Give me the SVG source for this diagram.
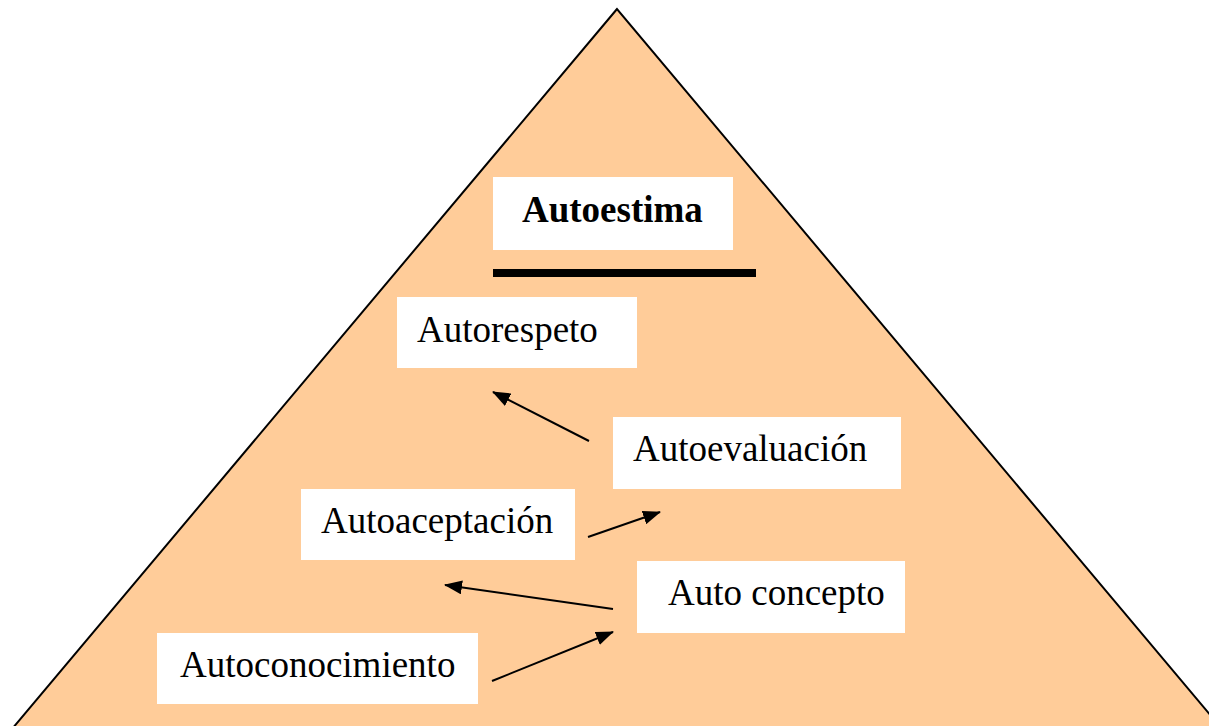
<svg xmlns="http://www.w3.org/2000/svg" width="1209" height="726" viewBox="0 0 1209 726">
<style>
.box{fill:#ffffff;stroke:none}
.t{font-family:"Liberation Serif","Times New Roman",serif;font-size:37px;fill:#000}
.b{font-weight:bold}
.c{stroke:#000;stroke-width:2;fill:none}
</style>
<defs>
<marker id="ah" markerWidth="18" markerHeight="14" refX="17" refY="7" orient="auto" markerUnits="userSpaceOnUse">
<path d="M0,0 L18,7 L0,14 Z" fill="#000"/>
</marker>
</defs>
<rect width="1209" height="726" fill="#ffffff"/>
<g id="pyramid">
<polygon points="617,9 12,729 1222,729" fill="#ffcc99" stroke="#000" stroke-width="2"/>
</g>
<g id="autoestima">
<rect class="box" x="493" y="177" width="240" height="73"/>
<text class="t b" x="522" y="222">Autoestima</text>
<rect x="493" y="269" width="263" height="8" fill="#000"/>
</g>
<g id="autorespeto">
<rect class="box" x="397" y="297" width="240" height="71"/>
<text class="t" x="417" y="342">Autorespeto</text>
</g>
<g id="autoevaluacion">
<rect class="box" x="613" y="417" width="288" height="72"/>
<text class="t" x="633" y="461">Autoevaluación</text>
</g>
<g id="autoaceptacion">
<rect class="box" x="301" y="489" width="274" height="71"/>
<text class="t" x="321" y="533">Autoaceptación</text>
</g>
<g id="autoconcepto">
<rect class="box" x="637" y="561" width="268" height="72"/>
<text class="t" x="668" y="605">Auto concepto</text>
</g>
<g id="autoconocimiento">
<rect class="box" x="157" y="633" width="321" height="71"/>
<text class="t" x="180" y="677">Autoconocimiento</text>
</g>
<g id="connectors">
<line class="c" x1="589" y1="441" x2="493" y2="392" marker-end="url(#ah)"/>
<line class="c" x1="588" y1="537" x2="660" y2="512" marker-end="url(#ah)"/>
<line class="c" x1="613" y1="609" x2="445" y2="585" marker-end="url(#ah)"/>
<line class="c" x1="492" y1="681" x2="613" y2="632" marker-end="url(#ah)"/>
</g>
</svg>
